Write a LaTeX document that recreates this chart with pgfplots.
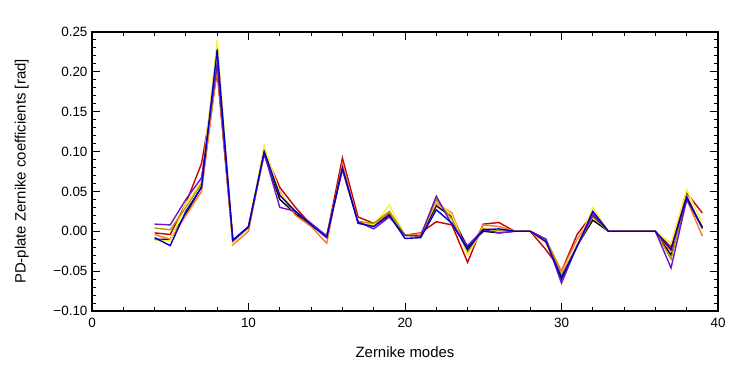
\documentclass[border=0pt]{standalone}
\usepackage{fontspec}
\setmainfont{Liberation Sans}
\usepackage{pgfplots}
\pgfplotsset{compat=1.18}
\usepackage{pgfplotstable}
\definecolor{cblk}{RGB}{0,0,0}
\definecolor{cred}{RGB}{200,0,0}
\definecolor{cora}{RGB}{255,120,40}
\definecolor{cyel}{RGB}{250,240,60}
\definecolor{coli}{RGB}{170,160,0}
\definecolor{cpur}{RGB}{110,20,200}
\definecolor{cblu}{RGB}{0,0,200}
\pgfplotstableread{
j blk red ora yel oli pur blu
4 -0.010 -0.002 -0.004 -0.011 0.004 0.009 -0.008
5 -0.010 -0.004 -0.010 -0.012 0.002 0.008 -0.018
6 0.022 0.035 0.020 0.035 0.030 0.040 0.025
7 0.056 0.085 0.050 0.062 0.060 0.067 0.055
8 0.205 0.200 0.205 0.240 0.210 0.210 0.228
9 -0.012 -0.012 -0.017 -0.015 -0.012 -0.012 -0.011
10 0.005 0.005 0.000 0.005 0.005 0.005 0.006
11 0.097 0.100 0.098 0.107 0.098 0.098 0.100
12 0.040 0.055 0.050 0.048 0.045 0.030 0.045
13 0.022 0.030 0.020 0.025 0.025 0.025 0.025
14 0.008 0.008 0.006 0.008 0.008 0.010 0.008
15 -0.006 -0.006 -0.015 -0.008 -0.006 -0.006 -0.008
16 0.078 0.092 0.085 0.080 0.078 0.078 0.080
17 0.012 0.018 0.012 0.012 0.012 0.012 0.010
18 0.008 0.010 0.008 0.008 0.010 0.003 0.006
19 0.022 0.022 0.024 0.033 0.025 0.018 0.020
20 -0.005 -0.005 -0.005 -0.005 -0.005 -0.005 -0.009
21 -0.006 -0.002 -0.003 -0.006 -0.006 -0.006 -0.008
22 0.032 0.012 0.035 0.038 0.040 0.044 0.027
23 0.018 0.008 0.023 0.020 0.015 0.008 0.010
24 -0.020 -0.039 -0.028 -0.030 -0.025 -0.018 -0.023
25 0.000 0.009 0.008 0.004 0.003 0.002 0.002
26 -0.002 0.011 0.006 0.000 0.001 -0.002 0.003
27 0 0 0 0 0 0 0
28 0 0 0 0 0 0 0
29 -0.010 -0.023 -0.010 -0.015 -0.010 -0.010 -0.013
30 -0.060 -0.050 -0.050 -0.055 -0.055 -0.065 -0.058
31 -0.018 -0.004 -0.010 -0.018 -0.018 -0.018 -0.019
32 0.014 0.022 0.020 0.030 0.018 0.020 0.025
33 0 0 0 0 0 0 0
34 0 0 0 0 0 0 0
35 0 0 0 0 0 0 0
36 0 0 0 0 0 0 0
37 -0.030 -0.020 -0.025 -0.015 -0.035 -0.046 -0.023
38 0.040 0.048 0.040 0.052 0.045 0.040 0.043
39 0.005 0.023 -0.006 0.010 0.003 0.005 0.004
}\data
\begin{document}
\begin{tikzpicture}
\begin{axis}[
  name=ax,
  scale only axis,
  width=626bp, height=279bp,
  xmin=0, xmax=40, ymin=-0.1, ymax=0.25,
  xtick={0,10,20,30,40},
  xticklabels={0,10,20,30,40},
  minor x tick num=4,
  ytick={-0.10,-0.05,0,0.05,0.10,0.15,0.20,0.25},
  yticklabels={−0.10,−0.05,0.00,0.05,0.10,0.15,0.20,0.25},
  minor y tick num=4,
  tick align=inside,
  major tick length=8bp,
  minor tick length=4bp,
  tick style={black, line width=1bp},
  axis line style={black, line width=1.6bp},
  ticklabel style={font=\fontsize{13.5}{15}\selectfont},
  xticklabel style={yshift=-4bp},
  yticklabel style={xshift=-1bp},
  xlabel={Zernike modes},
  ylabel={PD-plate Zernike coefficients [rad]},
  every axis x label/.style={at={(axis description cs:0.5,-0.147)}, anchor=center, font=\fontsize{15}{17}\selectfont},
  every axis y label/.style={at={(axis description cs:-0.112,0.5)}, rotate=90, anchor=center, font=\fontsize{15}{17}\selectfont},
  every axis plot/.append style={line width=1.4bp, mark=none},
  clip=true,
]
\addplot[cblk] table[x=j,y=blk]{\data};
\addplot[cred] table[x=j,y=red]{\data};
\addplot[cora] table[x=j,y=ora]{\data};
\addplot[cyel] table[x=j,y=yel]{\data};
\addplot[coli] table[x=j,y=oli]{\data};
\addplot[cpur] table[x=j,y=pur]{\data};
\addplot[cblu] table[x=j,y=blu]{\data};
\end{axis}
\pgfresetboundingbox
\path (ax.south west) ++(-92bp,-63bp) rectangle ([shift={(29bp,32bp)}]ax.north east);
\end{tikzpicture}
\end{document}
